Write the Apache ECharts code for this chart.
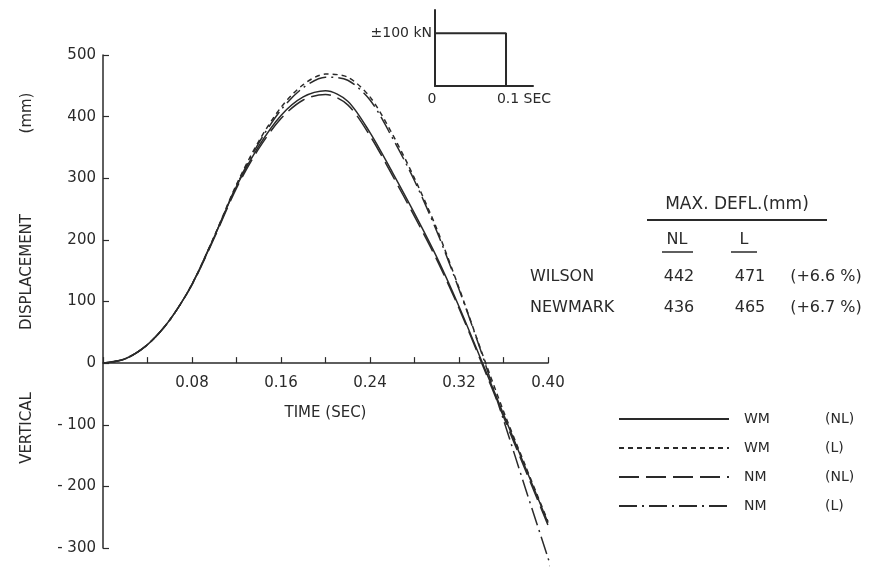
<!DOCTYPE html>
<html>
<head>
<meta charset="utf-8">
<script src="https://cdn.jsdelivr.net/npm/echarts@6/dist/echarts.min.js"></script>
<style>
  html, body { margin: 0; padding: 0; background: #fff; }
  #chart { width: 876px; height: 567px; }
</style>
</head>
<body>
<div id="chart"></div>
<script>
// time axis (sec) shared by the four response curves
const timeSec = [0, 0.02, 0.04, 0.06, 0.08, 0.10, 0.12, 0.14, 0.16, 0.18, 0.20,
                 0.22, 0.24, 0.26, 0.28, 0.30, 0.32, 0.34, 0.36, 0.38, 0.40, 0.404];
// vertical displacement (mm)
const wmNL = [0, 7, 30, 70, 128, 205, 287, 352, 402, 432, 442, 425, 374, 310, 243, 172, 92, 5, -83, -171, -259, null];
const wmL  = [0, 7, 30, 70, 128, 206, 290, 360, 415, 452, 469, 464, 432, 372, 300, 218, 122, 20, -78, -168, -257, null];
const nmNL = [0, 7, 30, 70, 127, 203, 284, 348, 397, 427, 436, 419, 369, 305, 238, 168, 89, 2, -87, -175, -263, null];
const nmL  = [0, 7, 30, 70, 128, 205, 288, 357, 411, 447, 464, 459, 427, 366, 296, 214, 120, 18, -92, -205, -316, -340];

// load pulse inset
const pulseTime = [0, 0.1, 0.1];
const pulseForce = [100, 100, 0];

// max deflection table
const tableMethods = ['WILSON', 'NEWMARK'];
const maxDeflNL = [442, 436];
const maxDeflL = [471, 465];
const changePct = ['+6.6', '+6.7'];

const ink = '#2a2a2a';
const fontFam = 'DejaVu Sans';

// main plot box
const plotTop = 55, plotHeight = 493;
const yMin = -300, yMax = 500;
// x axis sits on y = 0, expressed as an offset from the plot bottom
const zeroOffset = -plotHeight * (0 - yMin) / (yMax - yMin);

function pairs(ys) {
  const out = [];
  timeSec.forEach((t, i) => { if (ys[i] != null) out.push([t, ys[i]]); });
  return out;
}

function curve(name, ys, dash, extra) {
  return Object.assign({
    name: name, type: 'line', xAxisIndex: 0, yAxisIndex: 0,
    data: pairs(ys), symbol: 'none', smooth: 0.3,
    lineStyle: { color: ink, width: 1.5, type: dash },
    // transparent so the legend shows the bare line
    itemStyle: { color: 'rgba(0,0,0,0)', borderWidth: 0 },
    z: 3
  }, extra || {});
}

function txt(text, x, y, align, size) {
  return {
    type: 'text', x: x, y: y, silent: true,
    style: {
      text: text, fill: ink, font: (size || 16) + 'px "' + fontFam + '"',
      textAlign: align || 'left', align: align || 'left',
      textVerticalAlign: 'middle', verticalAlign: 'middle'
    }
  };
}

function rule(x1, x2, y, w) {
  return { type: 'line', silent: true, shape: { x1: x1, y1: y, x2: x2, y2: y }, style: { stroke: ink, lineWidth: w || 1.5 } };
}

const graphics = [
  // y axis title
  Object.assign(txt('VERTICAL', 27, 428, 'center', 15), { rotation: Math.PI / 2 }),
  Object.assign(txt('DISPLACEMENT', 27, 272, 'center', 15), { rotation: Math.PI / 2 }),
  Object.assign(txt('(mm)', 27, 113, 'center', 15), { rotation: Math.PI / 2 }),
  // table header
  txt('MAX. DEFL.(mm)', 737, 205, 'center', 17),
  rule(647, 827, 220, 2),
  txt('NL', 677, 240, 'center'),
  rule(662, 693, 252, 1.5),
  txt('L', 744, 240, 'center'),
  rule(731, 757, 252, 1.5)
];
tableMethods.forEach((m, i) => {
  const y = 277 + i * 31;
  graphics.push(txt(m, 530, y, 'left'));
  graphics.push(txt(String(maxDeflNL[i]), 679, y, 'center'));
  graphics.push(txt(String(maxDeflL[i]), 750, y, 'center'));
  graphics.push(txt('(' + changePct[i] + ' %)', 826, y, 'center'));
});

const chart = echarts.init(document.getElementById('chart'));
chart.setOption({
  animation: false,
  backgroundColor: '#fff',
  textStyle: { fontFamily: fontFam, color: ink },
  grid: [
    { left: 103, top: plotTop, width: 445, height: plotHeight, outerBoundsMode: 'none', containLabel: false },
    { left: 435, top: 10, width: 98, height: 76, outerBoundsMode: 'none', containLabel: false }
  ],
  legend: {
    orient: 'vertical', left: 618, top: 411, padding: 0,
    itemWidth: 110, itemHeight: 14, itemGap: 13,
    data: ['WM (NL)', 'WM (L)', 'NM (NL)', 'NM (L)'],
    selectedMode: false,
    formatter: (n) => {
      const p = n.split(' ');
      return '{a|' + p[0] + '}{b|' + p[1] + '}';
    },
    textStyle: {
      color: ink, fontFamily: fontFam, fontSize: 14, lineHeight: 16,
      rich: {
        a: { width: 81, padding: [0, 0, 0, 10], fontSize: 14, color: ink, fontFamily: fontFam },
        b: { fontSize: 14, color: ink, fontFamily: fontFam }
      }
    }
  },
  xAxis: [
    {
      gridIndex: 0, type: 'value', min: 0, max: 0.4, interval: 0.04,
      position: 'bottom', offset: zeroOffset,
      axisLine: { onZero: false, lineStyle: { color: ink, width: 1.5 } },
      axisTick: { show: true, inside: true, length: 6, lineStyle: { color: ink, width: 1.2 } },
      splitLine: { show: false },
      axisLabel: {
        margin: 12, color: ink, fontSize: 15, fontFamily: fontFam,
        formatter: (v) => {
          const k = Math.round(v * 100);
          return (k > 0 && k % 8 === 0) ? (k / 100).toFixed(2) : '';
        }
      },
      name: 'TIME (SEC)', nameLocation: 'middle', nameGap: 42,
      nameTextStyle: { color: ink, fontSize: 15, fontFamily: fontFam }
    },
    {
      gridIndex: 1, type: 'value', min: 0, max: 0.138, interval: 0.1,
      axisLine: { onZero: false, lineStyle: { color: ink, width: 2 } },
      axisTick: { show: false }, splitLine: { show: false },
      axisLabel: {
        margin: 6, color: ink, fontSize: 14, fontFamily: fontFam,
        formatter: (v) => v === 0 ? '{a|0}' : (Math.abs(v - 0.1) < 1e-6 ? '{b|0.1 SEC}' : ''),
        rich: {
          a: { fontSize: 14, color: ink, padding: [0, 6, 0, 0] },
          b: { fontSize: 14, color: ink, padding: [0, 0, 0, 36] }
        }
      }
    }
  ],
  yAxis: [
    {
      gridIndex: 0, type: 'value', min: yMin, max: yMax, interval: 100,
      axisLine: { show: true, onZero: false, lineStyle: { color: ink, width: 1.5 } },
      axisTick: { show: true, inside: true, length: 6, lineStyle: { color: ink, width: 1.2 } },
      splitLine: { show: false },
      axisLabel: {
        margin: 7, color: ink, fontSize: 15, fontFamily: fontFam,
        formatter: (v) => v < 0 ? '- ' + (-v) : String(v)
      }
    },
    {
      gridIndex: 1, type: 'value', min: 0, max: 144, interval: 100,
      axisLine: { show: true, onZero: false, lineStyle: { color: ink, width: 2 } },
      axisTick: { show: false }, splitLine: { show: false },
      axisLabel: {
        margin: 3, color: ink, fontSize: 14, fontFamily: fontFam,
        formatter: (v) => v === 100 ? '±100 kN' : ''
      }
    }
  ],
  series: [
    curve('WM (NL)', wmNL, 'solid'),
    curve('WM (L)', wmL, [5, 4]),
    curve('NM (NL)', nmNL, [20, 7]),
    curve('NM (L)', nmL, [18, 5, 2, 5], { clip: false }),
    {
      name: 'pulse', type: 'line', xAxisIndex: 1, yAxisIndex: 1,
      data: pulseTime.map((t, i) => [t, pulseForce[i]]),
      symbol: 'none', lineStyle: { color: ink, width: 2 }
    }
  ],
  graphic: graphics
});
</script>
</body>
</html>
